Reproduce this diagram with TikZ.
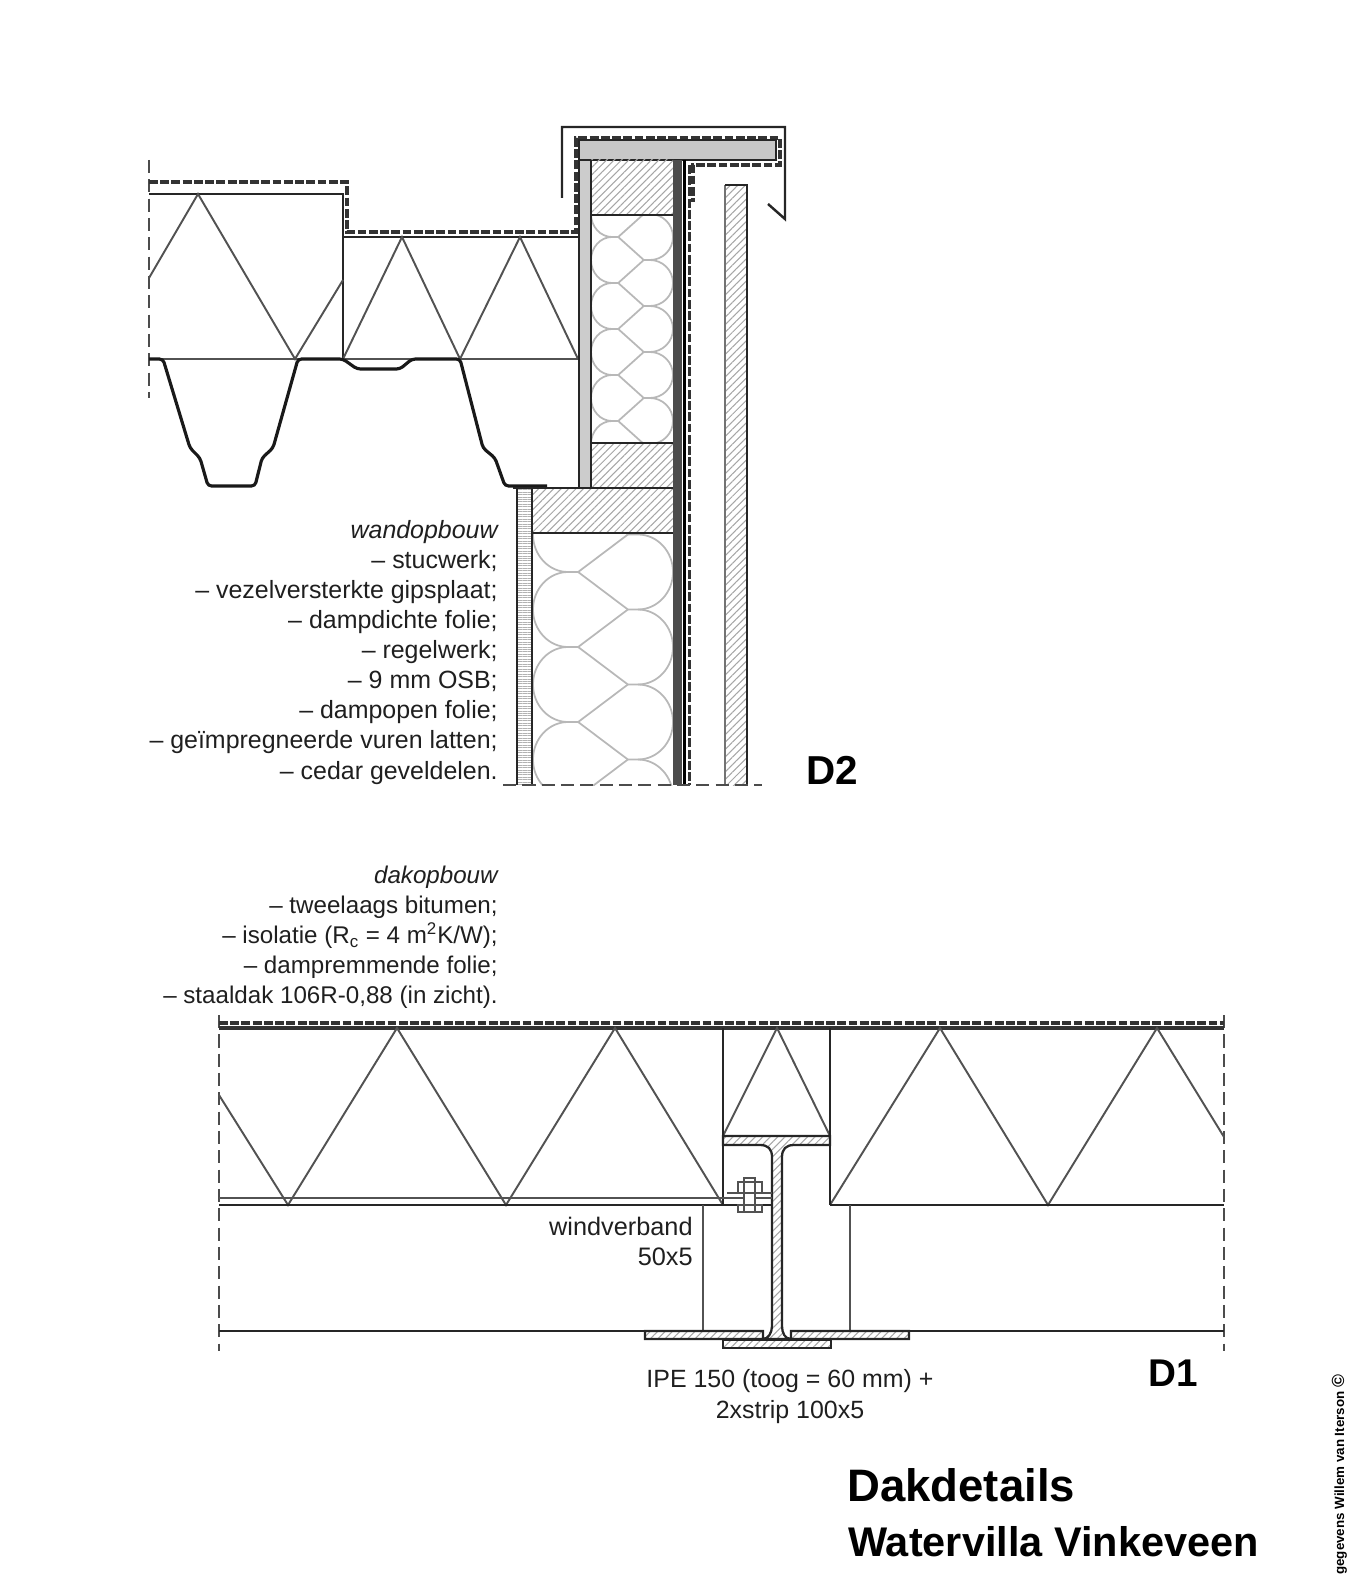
\documentclass[tikz,border=0pt]{standalone}
\usepackage{fontspec}
\setmainfont{Liberation Sans}
\usetikzlibrary{patterns.meta}
\newcommand{\wool}[6]{
	\foreach \y in {#6} {
		\draw[wool] ({#2-.27*#5},\y-#5) -- ({#1+.27*#5},\y) -- (#1,\y) .. controls ({#3+.45*(#1-#3)},\y) and (#3,\y+.45*#5) .. (#3,\y+#5) .. controls (#3,\y+1.55*#5) and ({#3+.45*(#1-#3)},\y+2*#5) .. (#1,\y+2*#5);
		\draw[wool] ({#1+.27*#5},\y) -- ({#2-.27*#5},\y+#5) -- (#2,\y+#5) .. controls ({#4-.45*(#4-#2)},\y+#5) and (#4,\y+1.45*#5) .. (#4,\y+2*#5) .. controls (#4,\y+2.55*#5) and ({#4-.45*(#4-#2)},\y+3*#5) .. (#2,\y+3*#5);
	}
}
\begin{document}
\begin{tikzpicture}[x=0.02cm, y=-0.02cm,
	outline/.style = {line width = 1.3pt, black!85},
	rib/.style = {line width = 1.1pt, black!68},
	sheet/.style = {line width = 1.8pt, black!90, rounded corners = 2pt},
	foil/.style = {line width = 1.8pt, black!80, dash pattern = on 5pt off 1.4pt},
	cutline/.style = {line width = .7pt, black!70, dash pattern = on 7.5pt off 3.5pt},
	wool/.style = {line width = 1pt, black!28},
	hatch/.style = {pattern = {Lines[angle = 45, distance = 3pt, line width = .6pt]}, pattern color = black!35},
	plaster/.style = {pattern = {Lines[angle = 0, distance = 1.4pt, line width = .5pt]}, pattern color = black!30},
	body/.style = {align = right, anchor = base east, inner sep = 0pt, text = black!88, font = \fontsize{14.2}{17.1}\selectfont},
	tag/.style = {anchor = base west, inner sep = 0pt, font = \bfseries\fontsize{23}{28}\selectfont}]
	\useasboundingbox (0,0) rectangle (1365,1594);

	\draw[cutline] (149,160) -- (149,398);
	\draw[outline] (149,194) -- (343,194) -- (343,359);
	\draw[outline] (343,237) -- (578,237);
	\draw[rib, line width = .9pt] (149,359) -- (578,359);
	\draw[rib] (149,278) -- (198,194) -- (295,359) -- (343,280);
	\draw[rib] (343,359) -- (402,237) -- (460,359) -- (520,237) -- (578,359);
	\draw[sheet] (149,359) -- (163,359) -- (190,448) -- (200,458) -- (208,486) -- (255,486) -- (262,458) -- (273,448) -- (298,359) -- (343,359) -- (357,369) -- (400,369) -- (412,359) -- (460,359) -- (483,448) -- (495,458) -- (505,486) -- (547,486);
	\draw[foil] (149,182) -- (347,182) -- (347,232) -- (576,232) -- (576,138) -- (780,138) -- (780,165) -- (693,165) -- (693,202);
	\draw[foil] (689.5,165) -- (689.5,785);
	\draw[line width = 1.4pt, black!85] (562,198) -- (562,127) -- (785,127) -- (785,219) -- (768,204);

	\draw[outline, fill = black!20] (579,160) rectangle (591,488);
	\draw[outline, fill = black!22] (579,140) rectangle (776,160);
	\fill[hatch] (591,160) rectangle (673,215);
	\fill[hatch] (591,443) rectangle (673,488);
	\fill[hatch] (533,488) rectangle (673,533);
	\begin{scope}
		\clip (591,215) rectangle (673,443);
		\wool{612}{650}{591}{673}{23}{191,237,283,329,375,421}
	\end{scope}
	\begin{scope}
		\clip (533,533) rectangle (673,785);
		\wool{568}{638}{533}{673}{37.5}{497,572,647,722,797}
	\end{scope}
	\draw[outline] (591,215) -- (673,215);
	\draw[outline] (591,443) -- (673,443);
	\draw[outline] (513,488) -- (673,488);
	\draw[outline] (533,533) -- (673,533);
	\draw[outline] (591,160) -- (591,488);
	\fill[plaster] (517,488) rectangle (532,785);
	\draw[outline, line width = 1.6pt] (517,488) -- (517,785);
	\draw[outline, line width = 1.6pt] (532,488) -- (532,785);
	\fill[black!70] (673,160) rectangle (682,785);
	\draw[line width = 1.7pt] (684,160) -- (684,785);
	\fill[hatch] (725,185) rectangle (747,785);
	\draw[line width = 1.5pt, black!55] (725,785) -- (725,185);
	\draw[line width = 1.2pt, black!85] (725,185) -- (747,185) -- (747,785);
	\draw[cutline] (503,785) -- (762,785);

	\draw[cutline] (219,1015) -- (219,1351);
	\draw[cutline] (1224,1015) -- (1224,1351);
	\draw[foil] (219,1023) -- (1224,1023);
	\draw[line width = 2pt, black!80] (219,1028) -- (1224,1028);
	\draw[rib] (219,1095) -- (288,1205) -- (397,1028) -- (506,1205) -- (615,1028) -- (723,1205);
	\draw[rib] (830,1205) -- (940,1028) -- (1048,1205) -- (1157,1028) -- (1224,1137);
	\draw[rib] (723,1136) -- (777,1028) -- (830,1136);
	\draw[outline] (723,1028) -- (723,1205);
	\draw[outline] (830,1028) -- (830,1205);
	\draw[rib] (219,1198) -- (723,1198);
	\draw[outline] (219,1205) -- (772,1205);
	\draw[outline] (830,1205) -- (1224,1205);
	\draw[outline] (219,1331) -- (645,1331);
	\draw[outline] (909,1331) -- (1224,1331);
	\draw[rib] (703,1205) -- (703,1331);
	\draw[rib] (850,1205) -- (850,1331);

	\draw[outline, hatch] (723,1136) -- (830,1136) -- (830,1145) -- (794,1145) .. controls (786,1145) and (782,1149) .. (782,1157) -- (782,1326) .. controls (782,1333) and (785,1339) .. (791,1339) -- (791,1331) -- (909,1331) -- (909,1339) -- (791,1339) -- (763,1339) -- (645,1339) -- (645,1331) -- (763,1331) -- (763,1339) .. controls (768,1339) and (772,1333) .. (772,1326) -- (772,1157) .. controls (772,1149) and (768,1145) .. (760,1145) -- (723,1145) -- cycle;
	\draw[outline, hatch] (723,1340) rectangle (831,1348);

	\draw[rib] (727,1193) -- (772,1193);
	\draw[rib] (723,1198) -- (772,1198);
	\draw[rib, fill = white] (744,1178) rectangle (755,1212);
	\draw[rib] (738,1182) rectangle (762,1193);
	\draw[rib] (738,1205) rectangle (762,1212);

	\node[body] (wall) at (498,779) {\itshape wandopbouw\\– stucwerk;\\– vezelversterkte gipsplaat;\\– dampdichte folie;\\– regelwerk;\\– 9 mm OSB;\\– dampopen folie;\\– geïmpregneerde vuren latten;\\– cedar geveldelen.};
	\node[body, font = \fontsize{13.75}{17}\selectfont] (roof) at (498,1003) {\itshape dakopbouw\\– tweelaags bitumen;\\– isolatie (R\textsubscript{c} = 4 m\textsuperscript{2}K/W);\\– dampremmende folie;\\– staaldak 106R-0,88 (in zicht).};
	\node[body, font = \fontsize{14.4}{17}\selectfont] (brace) at (693,1265) {windverband\\50x5};
	\node[body, align = center, anchor = base] (beam) at (790,1418) {IPE 150 (toog = 60 mm) +\\2xstrip 100x5};
	\node[tag] (d2) at (806,784) {D2};
	\node[tag, font = \bfseries\fontsize{22}{28}\selectfont] (d1) at (1148,1386) {D1};
	\node[tag, font = \bfseries\fontsize{25.9}{32}\selectfont] (title) at (847,1501) {Dakdetails};
	\node[tag, font = \bfseries\fontsize{23.6}{28}\selectfont] (sub) at (848,1556) {Watervilla Vinkeveen};
	\node[rotate = 90, anchor = base west, inner sep = 0pt, font = \bfseries\fontsize{7.6}{9}\selectfont] (credit) at (1344,1575) {gegevens Willem van Iterson {\fontsize{10}{9}\selectfont ©}};
\end{tikzpicture}
\end{document}
